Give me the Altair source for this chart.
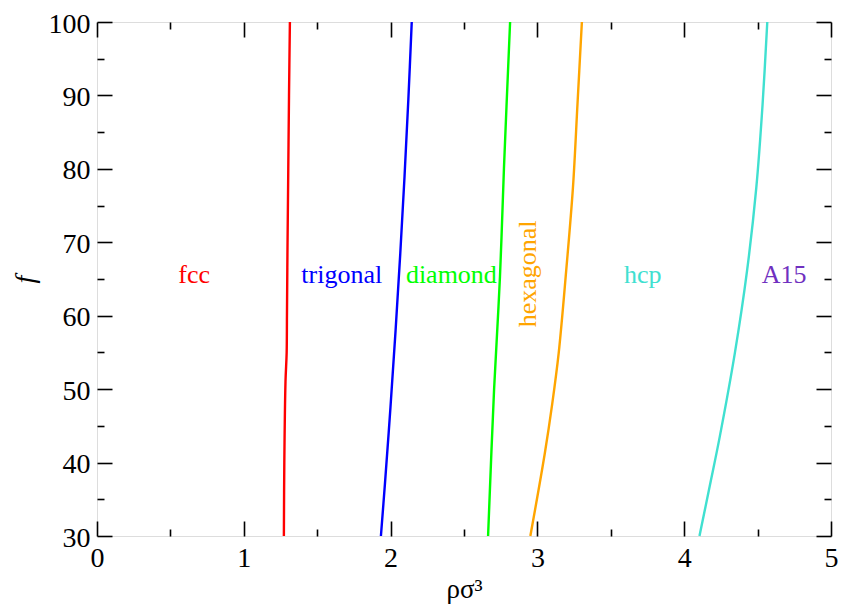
import altair as alt
import pandas as pd

# ---- data ----
f_fcc = [30, 40, 51, 55, 60, 70, 80, 90, 100]
rho_fcc = [1.273, 1.276, 1.284, 1.292, 1.294, 1.298, 1.303, 1.308, 1.314]

f_trig = [30, 37, 47.5, 58, 68.5, 79, 89.5, 100]
rho_trig = [1.934, 1.961, 1.999, 2.034, 2.066, 2.095, 2.121, 2.144]

f_diam = [30, 50, 65.3, 80, 100]
rho_diam = [2.664, 2.705, 2.745, 2.772, 2.814]

f_hex = [30, 41.2, 48, 54.9, 66.1, 77.4, 88.8, 100]
rho_hex = [2.952, 3.050, 3.101, 3.145, 3.196, 3.242, 3.273, 3.303]

f_hcp = [30, 36.8, 43.5, 54.9, 66.1, 77.4, 88.8, 100]
rho_hcp = [4.104, 4.174, 4.242, 4.345, 4.428, 4.491, 4.534, 4.566]

phases = ["fcc", "trigonal", "diamond", "hexagonal", "hcp", "A15"]
colors = ["#ff0000", "#0000ff", "#00ff00", "#ffa500", "#40e0d0", "#7030c0"]

label_rho = [0.662, 1.667, 2.414, 2.936, 3.717, 4.68]
label_f = [65.6, 65.6, 65.6, 65.7, 65.6, 65.6]
label_angle = [0, 0, 0, 270, 0, 0]

x_major = [0, 1, 2, 3, 4, 5]
x_minor = [0.5, 1.5, 2.5, 3.5, 4.5]
y_major = [30, 40, 50, 60, 70, 80, 90, 100]
y_minor = [35, 45, 55, 65, 75, 85, 95]

# ---- tables ----
rows = []
for name, fs, rs in [("fcc", f_fcc, rho_fcc), ("trigonal", f_trig, rho_trig),
                     ("diamond", f_diam, rho_diam), ("hexagonal", f_hex, rho_hex),
                     ("hcp", f_hcp, rho_hcp)]:
    for i, (fv, rv) in enumerate(zip(fs, rs)):
        rows.append({"phase": name, "rho": rv, "f": fv, "i": i})
lines_df = pd.DataFrame(rows)

labels_df = pd.DataFrame({"phase": phases, "rho": label_rho, "f": label_f,
                          "angle": label_angle})

FONT = "Liberation Serif"
xs = alt.Scale(domain=[0, 5], nice=False, zero=False)
ys = alt.Scale(domain=[30, 100], nice=False, zero=False)
cs = alt.Scale(domain=phases, range=colors)

base = alt.Chart(lines_df)


def tick_axis(values, orient, size):
    return alt.Axis(values=values, orient=orient, offset=-size, tickSize=size,
                    tickWidth=1.6, tickColor="black", labels=False,
                    domain=False, grid=False, title=None)


lines = base.mark_line(strokeWidth=2.4, interpolate="catmull-rom").encode(
    x=alt.X("rho:Q", scale=xs,
            axis=alt.Axis(values=x_major, orient="bottom", tickSize=0,
                          domain=False, grid=False, labelFontSize=28,
                          labelFont=FONT, labelColor="black", labelPadding=8,
                          labelFlush=False, format="d",
                          title="ρσ³", titleFont=FONT, titleFontSize=27,
                          titleFontWeight="normal", titleColor="black",
                          titleBaseline="alphabetic", titleY=61)),
    y=alt.Y("f:Q", scale=ys,
            axis=alt.Axis(values=y_major, orient="left", tickSize=0,
                          domain=False, grid=False, labelFontSize=28,
                          labelFont=FONT, labelColor="black", labelPadding=7,
                          labelFlush=False, labelOffset=2, format="d",
                          title="f", titleFont=FONT, titleFontSize=28,
                          titleFontStyle="italic", titleFontWeight="normal",
                          titleColor="black", titlePadding=9)),
    color=alt.Color("phase:N", scale=cs, legend=None),
    detail="phase:N",
    order="i:Q",
)


def ghost(xv, xo, xsz, yv, yo, ysz):
    return base.mark_line(strokeOpacity=0).encode(
        x=alt.X("rho:Q", scale=xs, axis=tick_axis(xv, xo, xsz)),
        y=alt.Y("f:Q", scale=ys, axis=tick_axis(yv, yo, ysz)),
        detail="phase:N",
    )


g1 = ghost(x_major, "bottom", 15, y_major, "left", 15)
g2 = ghost(x_minor, "bottom", 7, y_minor, "left", 7)
g3 = ghost(x_major, "top", 15, y_major, "right", 15)
g4 = ghost(x_minor, "top", 7, y_minor, "right", 7)

text_h = alt.Chart(labels_df).transform_filter("datum.angle == 0").mark_text(
    font=FONT, fontSize=26, align="center", baseline="middle"
).encode(
    x=alt.X("rho:Q", scale=xs, axis=None),
    y=alt.Y("f:Q", scale=ys, axis=None),
    text="phase:N",
    color=alt.Color("phase:N", scale=cs, legend=None),
)

text_v = alt.Chart(labels_df).transform_filter("datum.angle != 0").mark_text(
    font=FONT, fontSize=26, align="center", baseline="middle", angle=270
).encode(
    x=alt.X("rho:Q", scale=xs, axis=None),
    y=alt.Y("f:Q", scale=ys, axis=None),
    text="phase:N",
    color=alt.Color("phase:N", scale=cs, legend=None),
)

chart = alt.layer(lines, g1, g2, g3, g4, text_h, text_v).resolve_axis(
    x="independent", y="independent"
).properties(
    width=734, height=514,
    autosize=alt.AutoSizeParams(type="none"),
    padding={"left": 89, "top": 14, "right": 7, "bottom": 68},
).configure_view(stroke="black", strokeWidth=2).configure(background="white")

chart.save("out.html", embed_options={"renderer": "svg", "actions": False})
